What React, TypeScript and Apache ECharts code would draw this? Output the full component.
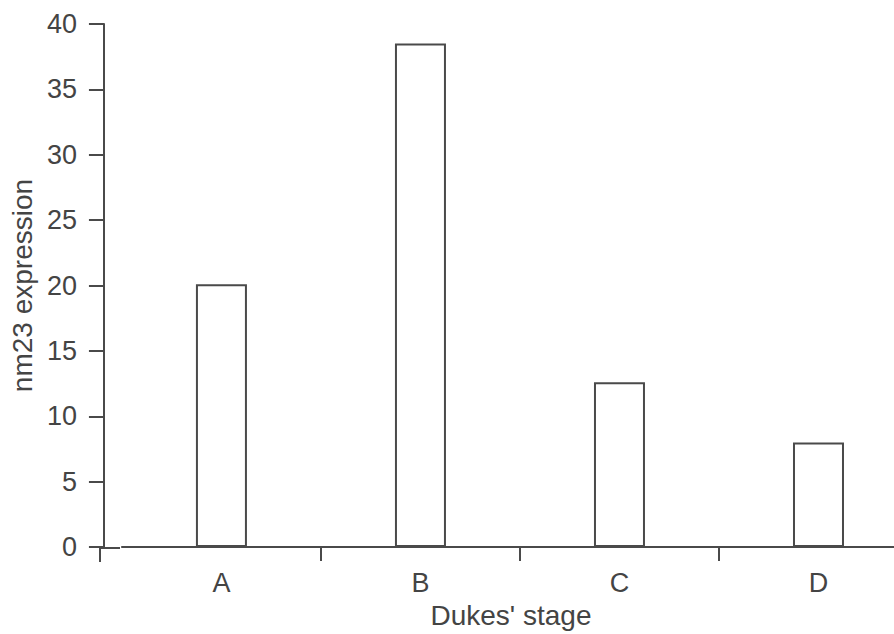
import React, { useEffect, useRef } from "react";
import * as echarts from "echarts";

const categories = ["A", "B", "C", "D"];
const values = [20.1, 38.5, 12.6, 8.0];
const yTicks = { min: 0, max: 40, interval: 5 };
const xName = "Dukes' stage";
const yName = "nm23 expression";

const INK = "#4a4a4a";
const TEXT = "#444444";
const FONT = "Liberation Sans, Arial, sans-serif";

export default function App() {
  const ref = useRef<HTMLDivElement>(null);
  useEffect(() => {
    if (!ref.current) return;
    document.body.style.margin = "0";
    document.body.style.overflow = "hidden";
    const chart = echarts.init(ref.current, null, { renderer: "svg" });
    chart.setOption({
      animation: false,
      backgroundColor: "#ffffff",
      textStyle: { fontFamily: FONT },
      grid: { left: 118, top: 24, width: 800, height: 524, containLabel: false },
      xAxis: {
        type: "category",
        data: categories,
        name: xName,
        nameLocation: "middle",
        nameGap: 51,
        nameTextStyle: { fontSize: 28, color: TEXT, fontFamily: FONT, padding: [0, 18, 0, 0] },
        axisLine: { lineStyle: { color: INK, width: 2 } },
        axisTick: {
          show: true,
          length: 14,
          lineStyle: { color: INK, width: 2 },
          interval: (index: number) => index !== 0,
        },
        axisLabel: { fontSize: 27, color: TEXT, margin: 22, fontFamily: FONT },
        splitLine: { show: false },
      },
      yAxis: {
        type: "value",
        min: yTicks.min,
        max: yTicks.max,
        interval: yTicks.interval,
        offset: 18,
        name: yName,
        nameLocation: "middle",
        nameGap: 62,
        nameTextStyle: { fontSize: 28, color: TEXT, fontFamily: FONT },
        axisLine: { show: true, lineStyle: { color: INK, width: 2 } },
        axisTick: { show: true, length: 15, lineStyle: { color: INK, width: 2 } },
        axisLabel: { fontSize: 27, color: TEXT, margin: 27, fontFamily: FONT },
        splitLine: { show: false },
      },
      graphic: [
        {
          type: "rect",
          z: 10,
          x: 99,
          y: 547,
          shape: { x: 0, y: 0, width: 21, height: 2 },
          style: { fill: INK },
        },
        {
          type: "rect",
          z: 10,
          x: 99,
          y: 547,
          shape: { x: 0, y: 0, width: 2, height: 15 },
          style: { fill: INK },
        },
      ],
      series: [
        {
          type: "bar",
          data: values,
          barWidth: 51,
          itemStyle: { color: "#ffffff", borderColor: INK, borderWidth: 2 },
        },
      ],
    });
    return () => chart.dispose();
  }, []);
  return (
    <div style={{ position: "absolute", left: 0, top: 0, width: 894, height: 634, overflow: "hidden" }}>
      <div ref={ref} style={{ width: 918, height: 634 }} />
    </div>
  );
}
